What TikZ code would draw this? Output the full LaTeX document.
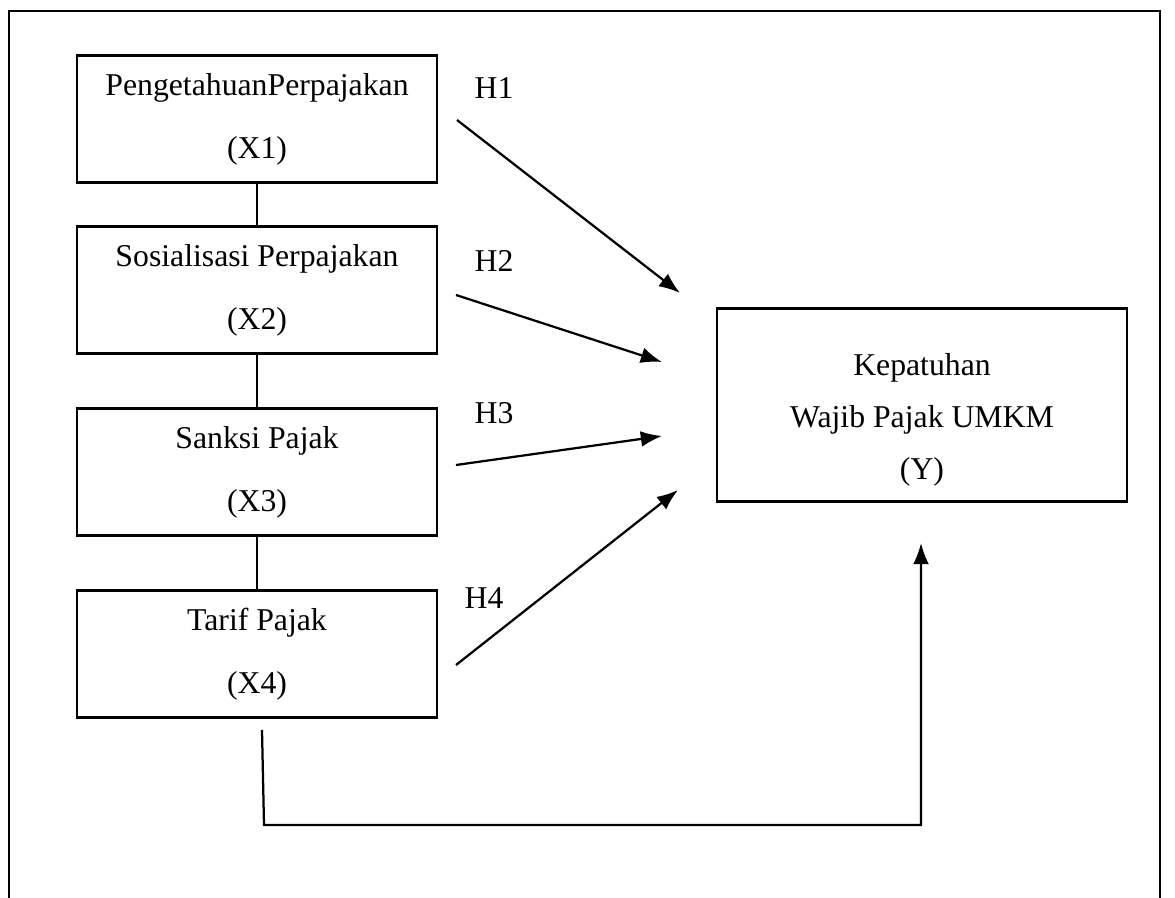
\documentclass[tikz,border=0pt]{standalone}
\usepackage{fontspec}
\setmainfont{Liberation Serif}
\usetikzlibrary{arrows.meta, positioning, calc}

\begin{document}
\begin{tikzpicture}[x=0.378pt, y=-0.378pt,
					kotak/.style={draw, line width=0.85pt, minimum width=136pt, minimum height=48pt, inner sep=0pt, align=center},
					panah/.style={-{Latex[length=8pt,width=6pt]}, line width=0.85pt},
					garis/.style={line width=0.6pt},
					font=\fontsize{12}{23.8}\selectfont]
					\useasboundingbox (0,0) rectangle (1175,898);
					%Rahmen
					\draw[line width=0.85pt] (9,898) -- (9,11) -- (1160,11) -- (1160,898);
					%Variabel X
					\node[kotak] (x1) at (257,119) {PengetahuanPerpajakan\\(X1)};
					\node[kotak] (x2) at (257,290) {Sosialisasi Perpajakan\\(X2)};
					\node[kotak] (x3) at (257,472) {Sanksi Pajak\\(X3)};
					\node[kotak] (x4) at (257,654) {Tarif Pajak\\(X4)};
					%Variabel Y
					\node[kotak, minimum width=155pt, minimum height=73pt] (y) at (922,405) {};
					\node[align=center, font=\fontsize{12}{19.7}\selectfont] (ytext) at (922,420) {Kepatuhan\\Wajib Pajak UMKM\\(Y)};
					%Garis antar X
					\foreach \a/\b in {x1/x2, x2/x3, x3/x4} \draw[garis] (\a.south) -- (\b.north);
					%Titik panah
					\coordinate (h1a) at (457,120); \coordinate (h1b) at (680,293);
					\coordinate (h2a) at (456,295); \coordinate (h2b) at (662,362);
					\coordinate (h3a) at (456,465); \coordinate (h3b) at (662,436);
					\coordinate (h4a) at (456,665); \coordinate (h4b) at (678,490);
					\coordinate (ba) at (262,730); \coordinate (bb) at (921,543);
					%Panah hipotesis
					\foreach \h in {1,...,4} \draw[panah] (h\h a) -- (h\h b);
					\draw[panah] (ba) -- (264,825) -- (bb |- 0,825) -- (bb);
					%Beschriftung
					\node (lh1) at (494,88) {H1};
					\node (lh2) at (494,261) {H2};
					\node (lh3) at (494,413) {H3};
					\node (lh4) at (484,598) {H4};
				\end{tikzpicture}
\end{document}
